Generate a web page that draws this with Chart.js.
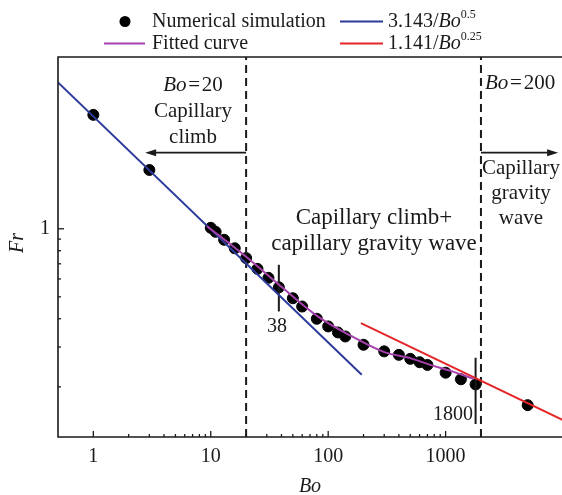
<!DOCTYPE html>
<html>
<head>
<meta charset="utf-8">
<script src="https://cdn.jsdelivr.net/npm/chart.js@4.4.0/dist/chart.umd.min.js"></script>
<style>
  body { margin: 0; background: #fff; }
  #wrap { width: 562px; height: 495px; }
</style>
</head>
<body>
<div id="wrap"><canvas id="chart" width="562" height="495"></canvas></div>
<script>
// Numerical simulation (Bo, Fr)
const simBo = [1, 3, 10, 11, 13, 16, 20, 25, 31, 38, 50, 60, 80, 100, 121, 140, 200, 300, 400, 500, 600, 700, 1000, 1350, 1800, 5000];
const simFr = [3.19, 1.82, 1.01, 0.97, 0.894, 0.82, 0.742, 0.665, 0.607, 0.551, 0.493, 0.453, 0.400, 0.370, 0.348, 0.334, 0.307, 0.287, 0.277, 0.266, 0.257, 0.250, 0.231, 0.216, 0.205, 0.166];

// Fitted curve
const fitBo = [9.3, 20, 39, 82, 160, 305, 500, 740, 1090, 1730];
const fitFr = [1.026, 0.752, 0.560, 0.409, 0.334, 0.284, 0.268, 0.250, 0.236, 0.217];

// Power laws, read as end points of the straight lines
const blueBo = [0.5, 193];
const blueFr = [4.44, 0.226];
const redBo = [190, 10000];
const redFr = [0.383, 0.1425];

// Regime boundaries and transition markers
const boundBo = [20, 2000];
const markBo = [38, 1800];
const markTop = [0.693, 0.269];
const markBottom = [0.431, 0.137];

// Axes
const xRange = [0.5, 9800];
const yRange = [0.12, 5.75];
const xMajor = [1, 10, 100, 1000];
const xMinor = [2, 3, 4, 5, 6, 7, 8, 9, 20, 30, 40, 50, 60, 70, 80, 90, 200, 300, 400, 500, 600, 700, 800, 900, 2000];
const yMajor = [1];
const yMinor = [0.2, 0.3, 0.4, 0.5, 0.6, 0.7, 0.8, 0.9];

const FONT = '"Liberation Serif", "Times New Roman", serif';
const BLUE = '#2d3b9b';
const RED = '#e52629';
const PURPLE = '#a640ad';
const INK = '#1a1a1a';
const EQ = '\u200a=\u200a';

const pts = (xs, ys) => xs.map((x, i) => ({ x: x, y: ys[i] }));

const datasets = [
    {
        label: 'Numerical simulation', type: 'scatter',
        data: pts(simBo, simFr),
        backgroundColor: '#000', borderColor: '#000',
        pointRadius: 5.5, pointHoverRadius: 5.5, order: 5
    },
    {
        label: 'Fitted curve', type: 'line',
        data: pts(fitBo, fitFr),
        borderColor: PURPLE, borderWidth: 2, pointRadius: 0,
        cubicInterpolationMode: 'monotone', order: 1
    },
    {
        label: '3.143/Bo^0.5', type: 'line',
        data: pts(blueBo, blueFr),
        borderColor: BLUE, borderWidth: 2, pointRadius: 0, order: 2
    },
    {
        label: '1.141/Bo^0.25', type: 'line',
        data: pts(redBo, redFr),
        borderColor: RED, borderWidth: 2, pointRadius: 0, order: 2
    }
];

boundBo.forEach(b => datasets.push({
    label: 'bound', type: 'line',
    data: pts([b, b], [yRange[0], yRange[1]]),
    borderColor: INK, borderWidth: 2, borderDash: [8, 5], pointRadius: 0, order: 3
}));
markBo.forEach((b, i) => datasets.push({
    label: 'mark', type: 'line',
    data: pts([b, b], [markBottom[i], markTop[i]]),
    borderColor: INK, borderWidth: 2, pointRadius: 0, order: 3
}));

// draw a line of text made of parts: [text, italic, superscript]
function rich(ctx, parts, x, y, align, size) {
    const font = (it, sz) => (it ? 'italic ' : '') + sz + 'px ' + FONT;
    let w = 0;
    parts.forEach(p => {
        ctx.font = font(p[1], p[2] ? Math.round(size * 0.62) : size);
        w += ctx.measureText(p[0]).width;
    });
    let cx = align === 'center' ? x - w / 2 : (align === 'right' ? x - w : x);
    ctx.textAlign = 'left';
    ctx.textBaseline = 'middle';
    parts.forEach(p => {
        ctx.font = font(p[1], p[2] ? Math.round(size * 0.62) : size);
        ctx.fillText(p[0], cx, p[2] ? y - size * 0.35 : y);
        cx += ctx.measureText(p[0]).width;
    });
}

function arrow(ctx, x0, x1, y) {
    const dir = Math.sign(x1 - x0);
    ctx.beginPath();
    ctx.moveTo(x0, y);
    ctx.lineTo(x1 - dir * 8, y);
    ctx.stroke();
    ctx.beginPath();
    ctx.moveTo(x1, y);
    ctx.lineTo(x1 - dir * 11, y - 3.5);
    ctx.lineTo(x1 - dir * 11, y + 3.5);
    ctx.closePath();
    ctx.fill();
}

const overlay = {
    id: 'overlay',
    afterDraw(chart) {
        const ctx = chart.ctx;
        const a = chart.chartArea;
        const sx = chart.scales.x, sy = chart.scales.y;
        ctx.save();
        ctx.strokeStyle = INK;
        ctx.fillStyle = INK;

        // frame
        ctx.lineWidth = 1.6;
        ctx.beginPath();
        ctx.moveTo(a.right, a.top);
        ctx.lineTo(a.left, a.top);
        ctx.lineTo(a.left, a.bottom);
        ctx.lineTo(a.right, a.bottom);
        ctx.stroke();

        // inward ticks
        ctx.lineWidth = 1.3;
        const tx = (v, len) => {
            const p = sx.getPixelForValue(v);
            ctx.beginPath(); ctx.moveTo(p, a.bottom); ctx.lineTo(p, a.bottom - len); ctx.stroke();
        };
        const ty = (v, len) => {
            const p = sy.getPixelForValue(v);
            ctx.beginPath(); ctx.moveTo(a.left, p); ctx.lineTo(a.left + len, p); ctx.stroke();
        };
        xMajor.forEach(v => tx(v, 6));
        xMinor.forEach(v => tx(v, 3));
        yMajor.forEach(v => ty(v, 6));
        yMinor.forEach(v => ty(v, 3));

        // axis titles
        rich(ctx, [['Bo', true]], (a.left + a.right) / 2, 487, 'center', 20);
        ctx.save();
        ctx.translate(18, 243);
        ctx.rotate(-Math.PI / 2);
        rich(ctx, [['Fr', true]], 0, 0, 'center', 20);
        ctx.restore();

        // legend
        ctx.fillStyle = '#000';
        ctx.beginPath(); ctx.arc(125, 21.5, 5.5, 0, Math.PI * 2); ctx.fill();
        ctx.lineWidth = 2;
        [[PURPLE, 104, 145, 43.5], [BLUE, 340, 383, 21.5], [RED, 340, 383, 43.5]].forEach(l => {
            ctx.strokeStyle = l[0];
            ctx.beginPath(); ctx.moveTo(l[1], l[3]); ctx.lineTo(l[2], l[3]); ctx.stroke();
        });
        ctx.fillStyle = INK;
        rich(ctx, [['Numerical simulation']], 152, 21.5, 'left', 20);
        rich(ctx, [['Fitted curve']], 152, 43.5, 'left', 20);
        rich(ctx, [['3.143/'], ['Bo', true], ['0.5', false, true]], 388, 21.5, 'left', 20);
        rich(ctx, [['1.141/'], ['Bo', true], ['0.25', false, true]], 388, 43.5, 'left', 20);

        // arrows
        ctx.strokeStyle = INK;
        ctx.lineWidth = 1.8;
        const ay = sy.getPixelForValue(2.17);
        arrow(ctx, sx.getPixelForValue(boundBo[0]), sx.getPixelForValue(2.76), ay);
        arrow(ctx, sx.getPixelForValue(boundBo[1]), sx.getPixelForValue(9080), ay);

        // region labels
        rich(ctx, [['Bo', true], [EQ + '20']], 193, 85, 'center', 21);
        rich(ctx, [['Capillary']], 193, 111.5, 'center', 21);
        rich(ctx, [['climb']], 193, 137, 'center', 21);
        rich(ctx, [['Bo', true], [EQ + '200']], 485, 83, 'left', 21);
        rich(ctx, [['Capillary']], 521, 168, 'center', 21);
        rich(ctx, [['gravity']], 521, 193, 'center', 21);
        rich(ctx, [['wave']], 521, 218, 'center', 21);
        rich(ctx, [['Capillary climb+']], 374, 218, 'center', 23);
        rich(ctx, [['capillary gravity wave']], 374, 244, 'center', 23);
        rich(ctx, [['38']], 277, 327, 'center', 20);
        rich(ctx, [['1800']], 473, 415, 'right', 20);
        ctx.restore();
    }
};

new Chart(document.getElementById('chart'), {
    data: { datasets: datasets },
    options: {
        responsive: false,
        animation: false,
        layout: { autoPadding: false, padding: { top: 57, right: 0, left: 0, bottom: 0 } },
        plugins: { legend: { display: false }, tooltip: { enabled: false } },
        scales: {
            x: {
                type: 'logarithmic', min: xRange[0], max: xRange[1],
                afterBuildTicks: s => { s.ticks = xMajor.map(v => ({ value: v })); },
                afterFit: s => { s.height = 58; },
                grid: { display: false, drawTicks: false },
                border: { display: false },
                ticks: {
                    autoSkip: false, maxRotation: 0, padding: 8, color: INK,
                    font: { family: FONT, size: 20 },
                    callback: v => String(v)
                }
            },
            y: {
                type: 'logarithmic', min: yRange[0], max: yRange[1],
                afterBuildTicks: s => { s.ticks = yMajor.map(v => ({ value: v })); },
                afterFit: s => { s.width = 58; },
                grid: { display: false, drawTicks: false },
                border: { display: false },
                ticks: {
                    autoSkip: false, padding: 8, color: INK,
                    font: { family: FONT, size: 20 },
                    callback: v => String(v)
                }
            }
        }
    },
    plugins: [overlay]
});
</script>
</body>
</html>
